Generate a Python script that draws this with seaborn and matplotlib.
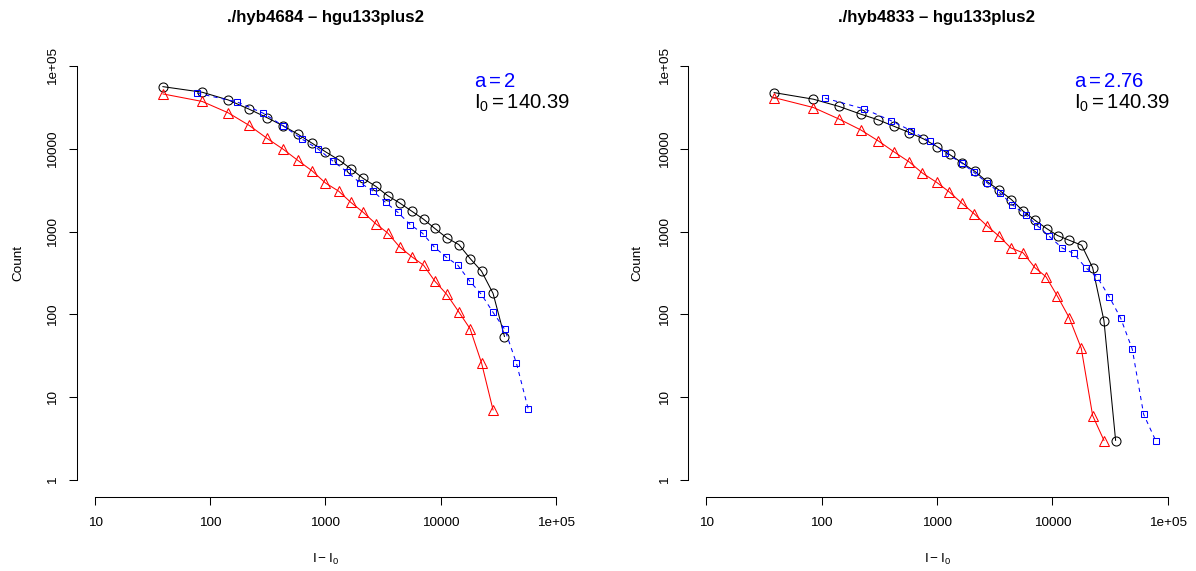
import numpy as np
import pandas as pd
import matplotlib
matplotlib.use("Agg")
import matplotlib.pyplot as plt
import seaborn as sns
from matplotlib.ticker import FixedLocator, FixedFormatter, NullLocator

# ---------------- data ----------------
titles = ["./hyb4684 \u2013 hgu133plus2", "./hyb4833 \u2013 hgu133plus2"]
a_labels = [r"$\mathrm{a = 2}$", r"$\mathrm{a = 2.76}$"]
i0_labels = [r"$\mathrm{I_0 = 140.39}$", r"$\mathrm{I_0 = 140.39}$"]

x_ticks = [10, 100, 1000, 10000, 100000]
x_ticklabels = ["10", "100", "1000", "10000", "1e+05"]
y_ticks = [1, 10, 100, 1000, 10000, 100000]
y_ticklabels = ["1", "10", "100", "1000", "10000", "1e+05"]

# left panel
left_black_x = [38.7, 85, 143, 217, 310, 430, 576, 763, 1000, 1300, 1661, 2123, 2737, 3457,
                4396, 5616, 7095, 8892, 11300, 14360, 17990, 22590, 28460, 35740]
left_black_y = [56300, 48200, 38900, 30100, 23800, 18900, 15000, 11700, 9200, 7370, 5740, 4390,
                3510, 2720, 2220, 1760, 1410, 1090, 839, 697, 473, 333, 179, 54]
left_blue_x = [77, 171, 288, 430, 630, 865, 1160, 1534, 2000, 2563, 3321, 4245, 5430, 6955,
               8767, 11070, 14060, 17870, 22580, 28300, 35960, 45420, 57300]
left_blue_y = [46900, 36800, 26900, 18900, 13000, 9900, 7110, 5280, 3860, 3120, 2250, 1710,
               1215, 954, 654, 496, 393, 252, 174, 107, 66, 25.7, 7.3]
left_red_x = [38.7, 85, 143, 217, 310, 430, 576, 763, 1000, 1300, 1661, 2123, 2737, 3457,
              4396, 5616, 7095, 8892, 11300, 14360, 17990, 22590, 28460]
left_red_y = [46000, 37300, 27200, 19200, 13400, 9860, 7230, 5430, 3860, 3080, 2250, 1710,
              1240, 964, 654, 496, 393, 252, 174, 107, 67, 26, 7]

# right panel
right_black_x = [38.6, 84.7, 142, 218, 308, 427, 576, 761, 999, 1284, 1637, 2134, 2728, 3467,
                 4424, 5602, 7072, 8939, 11130, 14020, 17970, 22370, 28030, 35390]
right_black_y = [47700, 39700, 32400, 26200, 22400, 18600, 15700, 13200, 10650, 8540, 6820,
                 5330, 4000, 3160, 2430, 1760, 1370, 1087, 895, 786, 684, 366, 84, 3]
right_blue_x = [107, 234, 397, 599, 869, 1180, 1637, 2093, 2728, 3517, 4497, 5875, 7407, 9414,
                12130, 15320, 19460, 24530, 31180, 39150, 49360, 61950, 78720]
right_blue_y = [40800, 30300, 21900, 16500, 12250, 8950, 6730, 5180, 3860, 2930, 2110, 1600,
                1180, 877, 636, 544, 366, 281, 163, 90, 38, 6.2, 3]
right_red_x = [38.6, 84.7, 142, 218, 309, 427, 576, 747, 994, 1279, 1650, 2093, 2700, 3460,
               4364, 5580, 7072, 8810, 11070, 14020, 17820, 22370, 28070]
right_red_y = [41500, 31500, 22800, 16900, 12480, 9120, 6920, 5090, 3930, 3010, 2190, 1650,
               1180, 877, 636, 554, 366, 285, 166, 91, 39, 6, 3]

panels = [
    dict(black=(left_black_x, left_black_y), blue=(left_blue_x, left_blue_y),
         red=(left_red_x, left_red_y)),
    dict(black=(right_black_x, right_black_y), blue=(right_blue_x, right_blue_y),
         red=(right_red_x, right_red_y)),
]

# ---------------- style ----------------
sns.set_theme(style="ticks")
plt.rcParams["font.family"] = ["Liberation Sans", "DejaVu Sans"]
plt.rcParams["mathtext.fontset"] = "custom"
plt.rcParams["mathtext.rm"] = "Liberation Sans"
plt.rcParams["mathtext.it"] = "Liberation Sans"
plt.rcParams["axes.unicode_minus"] = True
plt.rcParams["text.color"] = "black"
plt.rcParams["axes.labelcolor"] = "black"
plt.rcParams["xtick.color"] = "black"
plt.rcParams["ytick.color"] = "black"

W, H = 1196, 571
fig = plt.figure(figsize=(W / 100, H / 100), dpi=100)

ax_rects = [
    [76.6 / W, 1 - 496.6 / H, (574.4 - 76.6) / W, (496.6 - 49.4) / H],
    [687.9 / W, 1 - 496.6 / H, (1186.1 - 687.9) / W, (496.6 - 49.4) / H],
]
ann_x = [474 / W, 1074 / W]
count_x = [18.5 / W, 637.5 / W]

TICK_FS = 9.7
lw = 0.75

for i, (rect, p) in enumerate(zip(ax_rects, panels)):
    ax = fig.add_axes(rect)
    ax.set_xscale("log")
    ax.set_yscale("log")

    bx, by = p["black"]
    sns.lineplot(x=bx, y=by, ax=ax, estimator=None, errorbar=None, sort=False,
                 color="black", linewidth=lw, marker="o", markersize=6.5,
                 markerfacecolor="none", markeredgecolor="black", markeredgewidth=lw)
    rx, ry = p["red"]
    sns.lineplot(x=rx, y=ry, ax=ax, estimator=None, errorbar=None, sort=False,
                 color="#FF0000", linewidth=lw, marker="^", markersize=7.5,
                 markerfacecolor="none", markeredgecolor="#FF0000", markeredgewidth=lw)
    ux, uy = p["blue"]
    sns.lineplot(x=ux, y=uy, ax=ax, estimator=None, errorbar=None, sort=False,
                 color="#0000FF", linewidth=lw, linestyle=(0, (4, 4)), marker="s",
                 markersize=3.8, markerfacecolor="none", markeredgecolor="#0000FF",
                 markeredgewidth=lw)

    ax.set_xlim(10 ** 0.84, 10 ** 5.16)
    ax.set_ylim(10 ** -0.2, 10 ** 5.2)

    ax.xaxis.set_major_locator(FixedLocator(x_ticks))
    ax.xaxis.set_major_formatter(FixedFormatter(x_ticklabels))
    ax.xaxis.set_minor_locator(NullLocator())
    ax.yaxis.set_major_locator(FixedLocator(y_ticks))
    ax.yaxis.set_major_formatter(FixedFormatter(y_ticklabels))
    ax.yaxis.set_minor_locator(NullLocator())

    for s in ["top", "right"]:
        ax.spines[s].set_visible(False)
    ax.spines["left"].set_bounds(1, 1e5)
    ax.spines["bottom"].set_bounds(10, 1e5)
    for s in ["left", "bottom"]:
        ax.spines[s].set_color("black")
        ax.spines[s].set_linewidth(lw)

    ax.tick_params(axis="both", which="major", direction="out", length=6.1, width=lw,
                   color="black", labelsize=TICK_FS, labelcolor="black")
    ax.tick_params(axis="x", pad=8.5)
    ax.tick_params(axis="y", pad=6.3, labelrotation=90)
    for lab in ax.get_yticklabels():
        lab.set_verticalalignment("center")
    ax.set_xlabel("")
    ax.set_ylabel("")
    ax.grid(False)
    ax.set_facecolor("white")

    cx = rect[0] + rect[2] / 2
    fig.text(cx, 1 - 21.7 / H, titles[i], ha="center", va="baseline",
             fontsize=12.1, fontweight="bold", color="black")
    fig.text(cx, 1 - 563.3 / H, r"$\mathrm{I - I_0}$", ha="center", va="baseline",
             fontsize=TICK_FS, color="black")
    fig.text(count_x[i], 1 - 263 / H, "Count", rotation=90, ha="center", va="center",
             fontsize=TICK_FS, color="black")
    fig.text(ann_x[i], 1 - 86.7 / H, a_labels[i], ha="left", va="baseline",
             fontsize=14.6, color="#0000FF")
    fig.text(ann_x[i], 1 - 109 / H, i0_labels[i], ha="left", va="baseline",
             fontsize=14.6, color="black")

fig.savefig("out.png", dpi=100, facecolor="white")
